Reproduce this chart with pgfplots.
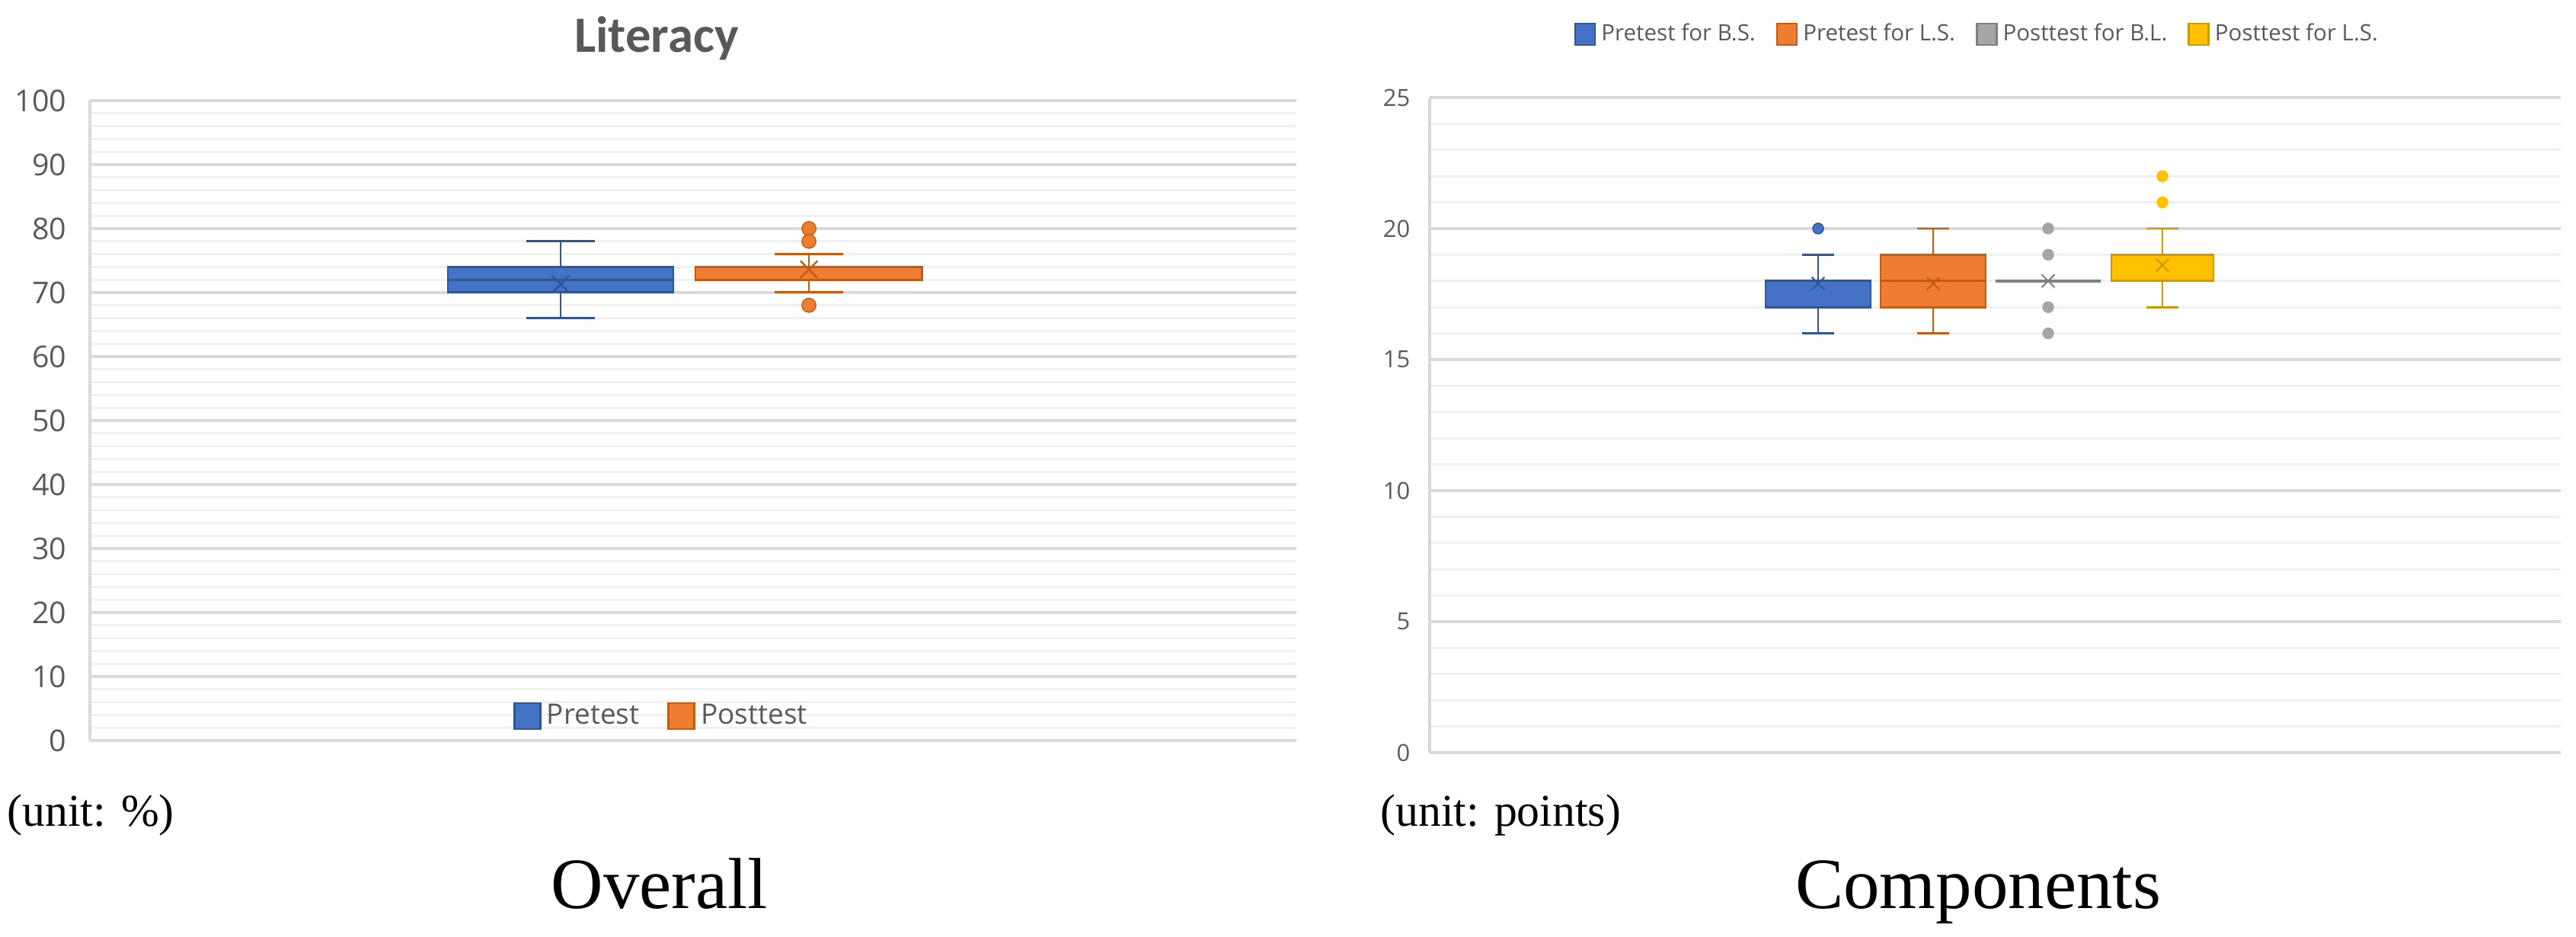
\documentclass[border=0pt]{standalone}
\usepackage{pgfplots}
\pgfplotsset{compat=1.18}
\usepackage{fontspec}
\setmainfont{Liberation Serif}
\newfontfamily\seg{Open Sans}
\newfontfamily\calfont{Carlito}

\definecolor{blueF}{HTML}{4472C4}
\definecolor{blueD}{HTML}{2F5597}
\definecolor{orangeF}{HTML}{ED7D31}
\definecolor{orangeD}{HTML}{C55A11}
\definecolor{grayF}{HTML}{A5A5A5}
\definecolor{grayD}{HTML}{7F7F7F}
\definecolor{yellowF}{HTML}{FFC000}
\definecolor{yellowD}{HTML}{CC9A00}
\definecolor{gridmajor}{HTML}{D9D9D9}
\definecolor{gridminor}{HTML}{F0F0F0}
\definecolor{tickgray}{HTML}{595959}

\pgfplotsset{
  xlsbase/.style={
    scale only axis, anchor=south west,
    axis lines=left, axis line style={draw=gridmajor, line width=0.9pt, -},
    xtick=\empty, major tick length=0pt, minor tick length=0pt,
    ymajorgrids, yminorgrids, minor y tick num=4,
    major grid style={draw=gridmajor, line width=0.9pt},
    minor grid style={draw=gridminor, line width=0.8pt},
    enlargelimits=false, clip=false,
    unbounded coords=jump,
    /pgf/number format/assume math mode=true,
    legend cell align=left,
  },
}

\begin{document}
\begin{tikzpicture}
\path[use as bounding box] (0,0) rectangle (33.82,12.30);

% Overall (x in pixel units of the original chart)
\begin{axis}[xlsbase,
  at={(1.18cm,2.58cm)}, width=15.84cm, height=8.40cm,
  xmin=118, xmax=1702, ymin=0, ymax=100, ytick={0,10,...,100},
  yticklabel style={font=\seg\fontsize{11.2}{13}\selectfont, text=tickgray, inner sep=0pt, xshift=-0.3cm},
  legend columns=2,
  legend style={at={(0.475,0.038)}, anchor=center, draw=none, fill=none,
    font=\seg\fontsize{10.5}{12}\selectfont, text=tickgray,
    /tikz/every even column/.append style={column sep=0.3cm}},
  legend image code/.code={\draw[#1, line width=0.8pt] (0cm,-0.17cm) rectangle (0.34cm,0.17cm);},
]
% Pretest: whiskers 66/78, quartiles 70/74, median 72
\addplot[forget plot, fill=blueF, draw=blueD, line width=0.85pt]
  coordinates {(588,70) (884,70) (884,74) (588,74)} -- cycle;
\addplot[forget plot, draw=blueD, line width=0.85pt]
  coordinates {(588,72) (884,72) (736,nan) (736,74) (736,78) (736,nan) (691,78) (781,78)
               (736,nan) (736,70) (736,66) (736,nan) (691,66) (781,66)};
% Posttest: whiskers 70/76, quartiles 72/74, median 74
\addplot[forget plot, fill=orangeF, draw=orangeD, line width=0.85pt]
  coordinates {(913,72) (1210,72) (1210,74) (913,74)} -- cycle;
\addplot[forget plot, draw=orangeD, line width=0.85pt]
  coordinates {(1062,74) (1062,76) (1062,nan) (1017,76) (1107,76)
               (1062,nan) (1062,72) (1062,70) (1062,nan) (1017,70) (1107,70)};
% means
\addplot[forget plot, only marks, mark=x, mark size=4.5pt, draw=blueD, mark options={line width=0.7pt}]
  coordinates {(736,71.3)};
\addplot[forget plot, only marks, mark=x, mark size=4.5pt, draw=orangeD, mark options={line width=0.7pt}]
  coordinates {(1062,73.6)};
% outliers
\addplot[forget plot, only marks, mark=*, mark size=2.6pt, fill=orangeF, draw=orangeD]
  coordinates {(1062,80) (1062,78) (1062,68)};
\addlegendimage{fill=blueF, draw=blueD}
\addlegendentry{Pretest}
\addlegendimage{fill=orangeF, draw=orangeD}
\addlegendentry{Posttest}
\end{axis}

% Components (x in pixel units, 0 at the plot's left edge)
\begin{axis}[xlsbase,
  at={(18.77cm,2.42cm)}, width=14.85cm, height=8.60cm,
  xmin=0, xmax=1485, ymin=0, ymax=25, ytick={0,5,...,25},
  yticklabel style={font=\seg\fontsize{8.8}{10}\selectfont, text=tickgray, inner sep=0pt, xshift=-0.25cm},
  legend columns=4,
  legend style={at={(0.4855,1.0965)}, anchor=center, draw=none, fill=none,
    font=\seg\fontsize{8.4}{10}\selectfont, text=tickgray,
    /tikz/every even column/.append style={column sep=0.2cm}},
  legend image code/.code={\draw[#1, line width=0.7pt] (0cm,-0.14cm) rectangle (0.26cm,0.14cm);},
]
% Pretest for B.S.: 16 / 17 / 18 / 18 / 19
\addplot[forget plot, fill=blueF, draw=blueD, line width=0.75pt]
  coordinates {(441,17) (579,17) (579,18) (441,18)} -- cycle;
\addplot[forget plot, draw=blueD, line width=0.75pt]
  coordinates {(510,18) (510,19) (510,nan) (489,19) (531,19)
               (510,nan) (510,17) (510,16) (510,nan) (489,16) (531,16)};
% Pretest for L.S.: 16 / 17 / 18 / 19 / 20
\addplot[forget plot, fill=orangeF, draw=orangeD, line width=0.75pt]
  coordinates {(592,17) (730,17) (730,19) (592,19)} -- cycle;
\addplot[forget plot, draw=orangeD, line width=0.75pt]
  coordinates {(592,18) (730,18) (661,nan) (661,19) (661,20) (661,nan) (640,20) (682,20)
               (661,nan) (661,17) (661,16) (661,nan) (640,16) (682,16)};
% Posttest for B.L.: all at 18
\addplot[forget plot, draw=grayD, line width=1pt]
  coordinates {(743,18) (881,18)};
% Posttest for L.S.: 17 / 18 / 19 / 19 / 20
\addplot[forget plot, fill=yellowF, draw=yellowD, line width=0.75pt]
  coordinates {(895,18) (1029,18) (1029,19) (895,19)} -- cycle;
\addplot[forget plot, draw=yellowD, line width=0.75pt]
  coordinates {(962,19) (962,20) (962,nan) (941,20) (983,20)
               (962,nan) (962,18) (962,17) (962,nan) (941,17) (983,17)};
% means
\addplot[forget plot, only marks, mark=x, mark size=3.4pt, draw=blueD, mark options={line width=0.6pt}]
  coordinates {(510,17.9)};
\addplot[forget plot, only marks, mark=x, mark size=3.4pt, draw=orangeD, mark options={line width=0.6pt}]
  coordinates {(661,17.9)};
\addplot[forget plot, only marks, mark=x, mark size=3.4pt, draw=grayD, mark options={line width=0.6pt}]
  coordinates {(812,18.0)};
\addplot[forget plot, only marks, mark=x, mark size=3.4pt, draw=yellowD, mark options={line width=0.6pt}]
  coordinates {(962,18.6)};
% outliers
\addplot[forget plot, only marks, mark=*, mark size=2pt, fill=blueF, draw=blueD]
  coordinates {(510,20)};
\addplot[forget plot, only marks, mark=*, mark size=2pt, fill=grayF, draw=grayF]
  coordinates {(812,20) (812,19) (812,17) (812,16)};
\addplot[forget plot, only marks, mark=*, mark size=2pt, fill=yellowF, draw=yellowF]
  coordinates {(962,22) (962,21)};
\addlegendimage{fill=blueF, draw=blueD}
\addlegendentry{Pretest for B.S.}
\addlegendimage{fill=orangeF, draw=orangeD}
\addlegendentry{Pretest for L.S.}
\addlegendimage{fill=grayF, draw=grayD}
\addlegendentry{Posttest for B.L.}
\addlegendimage{fill=yellowF, draw=yellowD}
\addlegendentry{Posttest for L.S.}
\end{axis}

\node[anchor=base, font=\calfont\bfseries\fontsize{19}{22}\selectfont, text=tickgray] at (8.62,11.61) {Literacy};
\node[anchor=base west, inner sep=0pt, font=\fontsize{17}{20}\selectfont] at (0.09,1.45) {(unit: \%)};
\node[anchor=base west, inner sep=0pt, font=\fontsize{17}{20}\selectfont] at (18.12,1.45) {(unit: points)};
\node[anchor=base, inner sep=0pt, font=\fontsize{27}{31}\selectfont] at (8.66,0.37) {Overall};
\node[anchor=base, inner sep=0pt, font=\fontsize{27}{31}\selectfont] at (25.97,0.37) {Components};
\end{tikzpicture}
\end{document}
